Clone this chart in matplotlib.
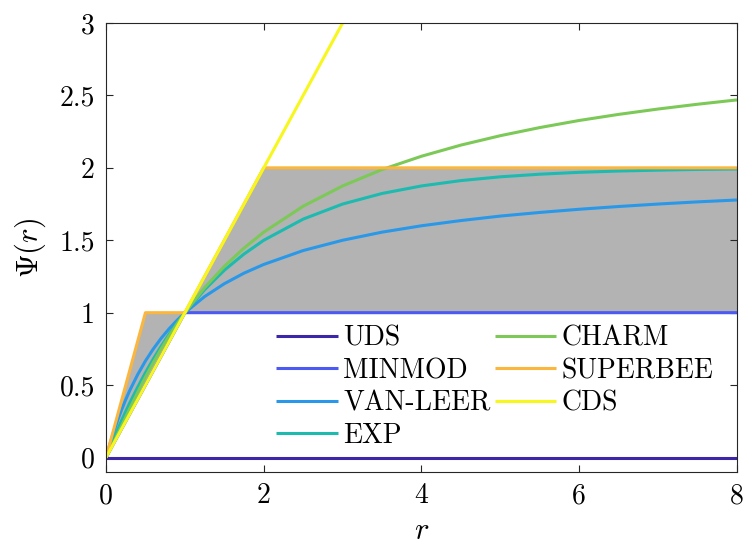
import matplotlib
matplotlib.use('Agg')
import matplotlib.pyplot as plt

plt.rcParams['font.family'] = 'serif'
plt.rcParams['font.serif'] = ['cmr10']
plt.rcParams['mathtext.fontset'] = 'cm'
plt.rcParams['axes.formatter.use_mathtext'] = True

# piecewise-linear limiters
r_uds = [0, 8]
uds = [0, 0]
r_minmod = [0, 1, 8]
minmod = [0, 1, 1]
r_superbee = [0, 0.5, 1, 2, 8]
superbee = [0, 1, 1, 2, 2]
r_cds = [0, 8]
cds = [0, 8]

# smooth limiters, values
r_s = [0, 0.05, 0.1, 0.15, 0.2, 0.25, 0.3, 0.4, 0.5, 0.6, 0.7, 0.8, 0.9, 1,
       1.25, 1.5, 1.75, 2, 2.5, 3, 3.5, 4, 4.5, 5, 5.5, 6, 6.5, 7, 7.5, 8]
vanleer = [0, 0.095, 0.182, 0.261, 0.333, 0.4, 0.462, 0.571, 0.667, 0.75,
           0.824, 0.889, 0.947, 1, 1.111, 1.2, 1.273, 1.333, 1.429, 1.5,
           1.556, 1.6, 1.636, 1.667, 1.692, 1.714, 1.733, 1.75, 1.765, 1.778]
exp_l = [0, 0.068, 0.134, 0.197, 0.259, 0.318, 0.376, 0.484, 0.586, 0.681,
         0.769, 0.851, 0.928, 1, 1.159, 1.293, 1.405, 1.5, 1.646, 1.75,
         1.823, 1.875, 1.912, 1.938, 1.956, 1.969, 1.978, 1.984, 1.989, 1.992]
charm = [0, 0.052, 0.107, 0.165, 0.222, 0.28, 0.337, 0.449, 0.556, 0.656,
         0.751, 0.840, 0.922, 1, 1.173, 1.32, 1.446, 1.556, 1.735, 1.875,
         1.988, 2.08, 2.157, 2.222, 2.278, 2.327, 2.369, 2.406, 2.439, 2.469]

# TVD region boundaries
r_tvd = [0, 0.5, 1, 2, 8]
tvd_low = [0, 0.5, 1, 1, 1]
tvd_high = [0, 1, 1, 2, 2]

labels = ['UDS', 'MINMOD', 'VAN-LEER', 'EXP', 'CHARM', 'SUPERBEE', 'CDS']
colors = ['#3e26a8', '#4a5af2', '#2a98e8', '#1dbab0', '#7cc957', '#fbb63e', '#f7f71e']

xticks = [0, 2, 4, 6, 8]
yticks = [0, 0.5, 1, 1.5, 2, 2.5, 3]
ytick_labels = ['0', '0.5', '1', '1.5', '2', '2.5', '3']

fig = plt.figure(figsize=(7.44, 5.54), dpi=100)
ax = fig.add_axes([0.1425, 0.148, 0.848, 0.8105])

ax.fill_between(r_tvd, tvd_low, tvd_high, color='#b3b3b3', linewidth=0, zorder=1)

lw = 2.2
series = [(r_uds, uds), (r_minmod, minmod), (r_s, vanleer), (r_s, exp_l),
          (r_s, charm), (r_superbee, superbee), (r_cds, cds)]
for (xx, yy), lab, c in zip(series, labels, colors):
    ax.plot(xx, yy, color=c, lw=lw, label=lab, solid_capstyle='butt', zorder=2)

ax.set_xlim(0, 8)
ax.set_ylim(-0.1, 3)
ax.set_xticks(xticks)
ax.set_xticklabels([str(v) for v in xticks])
ax.set_yticks(yticks)
ax.set_yticklabels(ytick_labels)
ax.tick_params(direction='in', length=5, width=0.8, labelsize=20,
               top=True, right=True, colors='#262626', labelcolor='black', pad=8)
for s in ax.spines.values():
    s.set_color('#262626')
    s.set_linewidth(0.8)

ax.set_xlabel(r'$r$', fontsize=22, labelpad=6)
ax.set_ylabel(r'$\Psi(r)$', fontsize=22, labelpad=8)

leg = ax.legend(ncol=2, loc='upper left', bbox_to_anchor=(0.257, 0.345),
                fontsize=20, frameon=True, fancybox=False, edgecolor='white',
                framealpha=1, handlelength=2.2, handletextpad=0.2,
                labelspacing=0.22, columnspacing=0.15, borderpad=0.3,
                borderaxespad=0)
leg.set_zorder(1.5)

fig.savefig('out.png', dpi=100)
